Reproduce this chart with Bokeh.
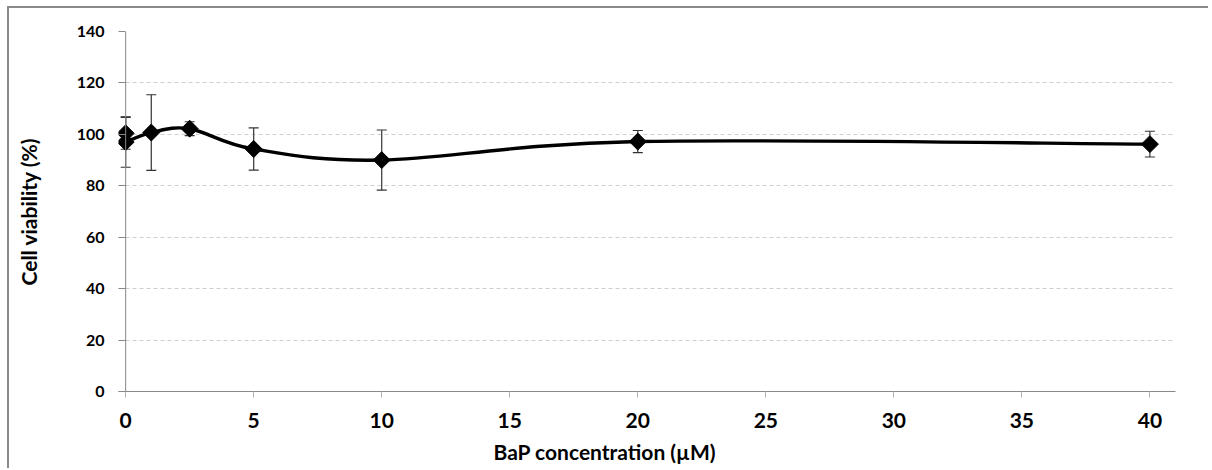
import math
import numpy as np
from bokeh.plotting import figure
from bokeh.models import Range1d, FixedTicker, Title, Span
from bokeh.embed import file_html
from bokeh.resources import INLINE

# ---- data ----
conc = [0, 1, 2.5, 5, 10, 20, 40]                       # BaP concentration (µM)
viability = [97.0, 100.7, 102.2, 94.3, 90.0, 97.2, 96.2]  # cell viability (%)
viability_err = [9.8, 14.7, 2.7, 8.2, 11.7, 4.3, 5.0]
control_conc = [0]
control_viability = [100.4]
control_err = [6.2]
x_ticks = [0, 5, 10, 15, 20, 25, 30, 35, 40]
y_ticks = [0, 20, 40, 60, 80, 100, 120, 140]
x_title = "BaP concentration (µM)"
y_title = "Cell viability (%)"

FONT = "Lato"
GRAY = "#898989"

p = figure(width=1201, height=462, output_backend="svg", toolbar_location=None,
           x_range=Range1d(-0.28, 41), y_range=Range1d(0, 140),
           min_border_left=109, min_border_top=23, min_border_right=35, min_border_bottom=79)
p.styles = {"border-top": "2px solid " + GRAY, "border-left": "2px solid " + GRAY,
            "margin-left": "7px", "margin-top": "6px"}
p.outline_line_color = None
p.background_fill_color = "white"
p.border_fill_color = "white"

# grid
p.xgrid.visible = False
p.ygrid.ticker = FixedTicker(ticks=y_ticks)
p.ygrid.grid_line_color = "#cfcfcf"
p.ygrid.grid_line_dash = "4 3"
p.ygrid.grid_line_width = 1

# axes
p.xaxis.ticker = FixedTicker(ticks=x_ticks)
p.yaxis.ticker = FixedTicker(ticks=y_ticks)
for ax in (p.xaxis[0], p.yaxis[0]):
    ax.axis_line_color = GRAY
    ax.axis_line_width = 1
    ax.minor_tick_line_color = None
    ax.major_label_text_font = FONT
    ax.major_label_text_font_style = "bold"
    ax.major_label_text_color = "black"
# y axis: labels at frame edge, ticks drawn inward up to x = 0, axis line at x = 0
p.yaxis.axis_line_color = None
p.yaxis.major_tick_in = 7
p.yaxis.major_tick_out = 0
p.yaxis.major_tick_line_color = GRAY
p.yaxis.major_label_text_font_size = "16px"
p.yaxis.major_label_standoff = 14
p.yaxis.axis_label = y_title
p.yaxis.axis_label_text_font = FONT
p.yaxis.axis_label_text_font_style = "bold"
p.yaxis.axis_label_text_font_size = "21px"
p.yaxis.axis_label_text_color = "black"
p.yaxis.axis_label_standoff = 33
p.add_layout(Span(location=0, dimension="height", line_color=GRAY, line_width=1))
p.xaxis.major_tick_in = 0
p.xaxis.major_tick_out = 6
p.xaxis.major_tick_line_color = "#b5b5b5"
p.xaxis.major_label_text_font_size = "21px"
p.xaxis.major_label_standoff = 15

# smoothed line (Catmull-Rom style Bezier through the data points)
xs = np.array(conc, dtype=float)
ys = np.array(viability, dtype=float)
n = len(xs)

def pt(i):
    i = min(max(i, 0), n - 1)
    return xs[i], ys[i]

bx0, by0, bx1, by1, cx0, cy0, cx1, cy1 = ([] for _ in range(8))
for i in range(n - 1):
    x0, y0 = pt(i)
    x1, y1 = pt(i + 1)
    xm, ym = pt(i - 1)
    xp, yp = pt(i + 2)
    bx0.append(x0); by0.append(y0); bx1.append(x1); by1.append(y1)
    cx0.append(x0 + (x1 - xm) / 6.0); cy0.append(y0 + (y1 - ym) / 6.0)
    cx1.append(x1 - (xp - x0) / 6.0); cy1.append(y1 - (yp - y0) / 6.0)

p.bezier(x0=bx0, y0=by0, x1=bx1, y1=by1, cx0=cx0, cy0=cy0, cx1=cx1, cy1=cy1,
         line_color="black", line_width=3.4, line_cap="round")

# error bars
all_x = list(conc) + list(control_conc)
all_y = list(viability) + list(control_viability)
all_e = list(viability_err) + list(control_err)
up = [y + e for y, e in zip(all_y, all_e)]
lo = [y - e for y, e in zip(all_y, all_e)]
EB = "#333333"
p.segment(x0=all_x, y0=lo, x1=all_x, y1=up, line_color=EB, line_width=1.2)
p.scatter(x=all_x, y=up, marker="dash", size=10, line_color=EB, line_width=1.2)
p.scatter(x=all_x, y=lo, marker="dash", size=10, line_color=EB, line_width=1.2)

# diamond markers
p.scatter(x=conc, y=viability, marker="square", size=12, angle=math.pi / 4,
          fill_color="black", line_color="black")
p.scatter(x=control_conc, y=control_viability, marker="square", size=12, angle=math.pi / 4,
          fill_color="black", line_color="black")

# x axis title
p.add_layout(Title(text=x_title, text_font=FONT, text_font_style="bold", text_font_size="21px",
                   text_color="black", align="left", offset=375, standoff=12), "below")

open("out.html", "w").write(file_html(p, INLINE))
